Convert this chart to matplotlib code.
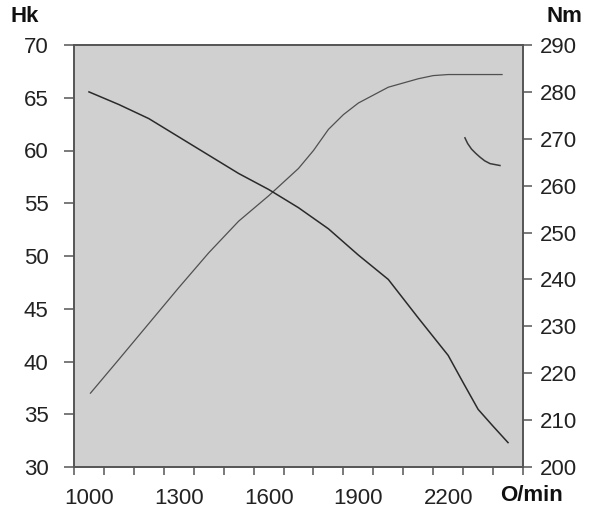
import matplotlib.pyplot as plt
import matplotlib.transforms as mtransforms
import numpy as np

plt.rcParams['font.family'] = ['Liberation Sans', 'DejaVu Sans']

# power curve, Hk (left axis)
rpm_power = [1005, 1100, 1200, 1300, 1400, 1500, 1600, 1700, 1750, 1800,
             1850, 1900, 2000, 2100, 2150, 2200, 2380]
power_hk = [37.0, 40.2, 43.6, 47.0, 50.3, 53.3, 55.7, 58.3, 60.0, 62.0,
            63.4, 64.5, 66.0, 66.8, 67.1, 67.2, 67.2]

# torque curve, Nm (right axis)
rpm_torque = [1000, 1100, 1200, 1300, 1400, 1500, 1600, 1700, 1800, 1900,
              2000, 2100, 2200, 2250, 2300, 2350, 2400]
torque_nm = [280.0, 277.3, 274.3, 270.4, 266.5, 262.6, 259.2, 255.3, 250.8, 245.2,
             240.0, 231.8, 223.8, 218.0, 212.3, 208.7, 205.2]

# small fragment near the top right
rpm_arc = [2256, 2265, 2278, 2292, 2306, 2322, 2340, 2373]
arc_nm = [270.2, 269.0, 267.8, 266.9, 266.1, 265.3, 264.7, 264.3]

x_labels = [1000, 1300, 1600, 1900, 2200]
x_minor = np.arange(950, 2451, 100)
hk_ticks = np.arange(30, 71, 5)
nm_ticks = np.arange(200, 291, 10)

fig = plt.figure(figsize=(5.99, 5.22), dpi=100)
ax = fig.add_axes([74/599, 1 - 467/522, 449/599, 422/522])
ax2 = ax.twinx()

ax.set_facecolor('#d0d0d0')
ax.set_xlim(950, 2450)
ax.set_ylim(30, 70)
ax2.set_ylim(200, 290)

ax.plot(rpm_power, power_hk, color='#505050', lw=0.9)
ax2.plot(rpm_torque, torque_nm, color='#2a2a2a', lw=1.1)
ax2.plot(rpm_arc, arc_nm, color='#3a3a3a', lw=1.1)

spine_col = '#555555'
for a in (ax, ax2):
    for s in a.spines.values():
        s.set_color(spine_col)
        s.set_linewidth(1.2)

fs = 16
ax.set_xticks(x_labels)
ax.set_xticklabels([str(v) for v in x_labels])
ax.set_xticks(x_minor, minor=True)
ax.tick_params(axis='x', which='major', length=0, pad=15, labelsize=fs)
ax.tick_params(axis='x', which='minor', length=6, width=1.1, color=spine_col)

ax.set_yticks(hk_ticks)
ax.tick_params(axis='y', length=7.2, width=1.1, color=spine_col, pad=11, labelsize=fs)
ax2.set_yticks(nm_ticks)
ax2.tick_params(axis='y', length=6.5, width=1.1, color=spine_col, pad=5.5, labelsize=fs)

for lab in ax.get_xticklabels() + ax.get_yticklabels() + ax2.get_yticklabels():
    lab.set_color('#222222')

fig.text(10/599, 1 - 17/522, 'Hk', fontsize=fs, fontweight='bold', va='center', color='#111111')
fig.text(547/599, 1 - 17/522, 'Nm', fontsize=fs, fontweight='bold', va='center', color='#111111')
trans = mtransforms.blended_transform_factory(ax.transData, ax.transAxes)
ax.text(2480, -0.068, 'O/min', transform=trans, fontsize=fs, fontweight='bold',
        ha='center', va='center', color='#111111')

fig.savefig('out.png', dpi=100)
